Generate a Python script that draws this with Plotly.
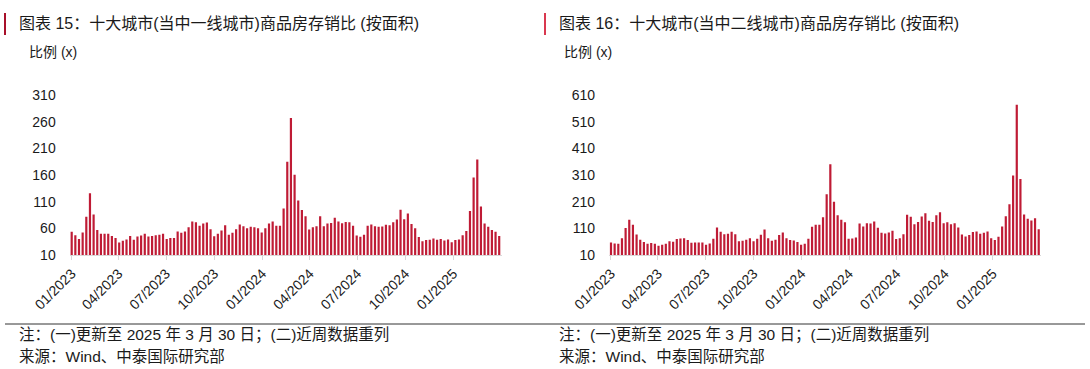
import pandas as pd
import plotly.graph_objects as go

# ---------------- data ----------------
dates = pd.date_range("2023-01-01", "2025-03-30", freq="7D")

tier1_ratio = [53.5, 47, 40, 52, 81.5, 125.7, 86, 57, 50, 50,
               50, 45.5, 41.7, 33.6, 36.7, 39, 45.5, 38.6, 44.8, 46.7,
               50, 44.8, 45.5, 47, 48, 50, 40, 41.7, 42, 54,
               51.7, 54, 62, 73, 71.6, 64.7, 69, 71, 58.5, 45,
               50, 56, 66, 48, 51.7, 58.5, 67, 64, 60, 63,
               62, 60, 52, 60, 69, 73, 64.7, 65, 97, 185,
               267, 160.5, 112, 94.6, 82.8, 58, 62, 64, 82.8, 64,
               69, 70, 80, 73, 69.7, 72, 71.6, 65, 46.7, 44,
               48, 65, 67, 64, 63, 63.5, 66.6, 66, 71.6, 76.5,
               95, 77, 88, 68, 60, 43.6, 36, 38, 38.6, 41,
               38.6, 40, 37.4, 39, 34, 38, 39, 47, 55, 92.7,
               155.5, 189, 101, 69, 63, 57, 53.5, 45.5]

tier2_ratio = [57, 53.5, 52, 73, 111, 142, 123, 87, 67, 58.5,
               52, 55, 52, 45, 48.6, 52, 62, 60, 70, 72,
               73, 66, 56, 57, 57, 57, 48.6, 53.5, 71, 113,
               97, 88, 89.6, 97, 88, 62, 63.5, 67, 73, 62,
               71, 86, 106, 73, 63.5, 67, 84.6, 94.6, 73, 66,
               64.7, 58.5, 48.6, 52, 71, 116, 123, 123, 152, 238,
               350, 210, 159, 142, 133, 71, 72, 76, 128, 117,
               129, 128, 135.6, 112, 93, 91, 94.6, 101, 70, 73,
               88, 160.5, 153, 125.7, 134, 154, 167, 138, 134, 159,
               170.5, 129, 133, 125.7, 129, 113, 87, 79.7, 84.6, 96,
               98, 89.6, 93, 98, 73, 66, 78, 117, 155.5, 200,
               308.5, 573.5, 295, 162, 145.6, 139, 148, 107]

x_tick_dates = pd.to_datetime(["2023-01-01", "2023-04-01", "2023-07-01", "2023-10-01",
                               "2024-01-01", "2024-04-01", "2024-07-01", "2024-10-01",
                               "2025-01-01"])
x_tick_labels = ["01/2023", "04/2023", "07/2023", "10/2023", "01/2024",
                 "04/2024", "07/2024", "10/2024", "01/2025"]
y1_ticks = [10, 60, 110, 160, 210, 260, 310]
y2_ticks = [10, 110, 210, 310, 410, 510, 610]

title1 = "图表 15：十大城市(当中一线城市)商品房存销比 (按面积)"
title2 = "图表 16：十大城市(当中二线城市)商品房存销比 (按面积)"
unit_label = "比例 (x)"
note1 = "注：(一)更新至 2025 年 3 月 30 日；(二)近周数据重列"
note2 = "来源：Wind、中泰国际研究部"

# ---------------- layout helpers ----------------
W, H = 1090, 369
def fx(p):
    return p / W
def fy(p):
    return 1 - p / H

BAR = "#BF1B35"
FONT = "Liberation Sans, Noto Sans CJK SC, sans-serif"
TXT = "#1a1a1a"

x_range = [pd.Timestamp("2023-01-01") - pd.Timedelta(days=4.2),
           pd.Timestamp("2023-01-01") + pd.Timedelta(days=823.4)]

fig = go.Figure()
fig.add_trace(go.Bar(x=dates, y=tier1_ratio, marker=dict(color=BAR, line=dict(width=0)),
                     xaxis="x", yaxis="y", showlegend=False))
fig.add_trace(go.Bar(x=dates, y=tier2_ratio, marker=dict(color=BAR, line=dict(width=0)),
                     xaxis="x2", yaxis="y2", showlegend=False))

xcommon = dict(type="date", range=x_range, tickvals=x_tick_dates, ticktext=x_tick_labels,
               tickangle=-45, showgrid=False, zeroline=False, showline=True, automargin=False,
               linecolor="#d9d9d9", linewidth=1, ticks="outside", ticklen=4,
               tickcolor="#d9d9d9", tickfont=dict(family=FONT, size=14, color=TXT))
ycommon = dict(showgrid=False, zeroline=False, showline=False, ticks="outside", automargin=False,
               ticklen=10, tickcolor="rgba(0,0,0,0)",
               tickfont=dict(family=FONT, size=14, color=TXT))

fig.update_layout(
    template="none",
    width=W, height=H, margin=dict(l=0, r=0, t=0, b=0, autoexpand=False),
    paper_bgcolor="white", plot_bgcolor="white",
    bargap=0.4,
    font=dict(family=FONT, color=TXT),
    xaxis=dict(domain=[fx(69.5), fx(501.5)], anchor="y", **xcommon),
    xaxis2=dict(domain=[fx(608.8), fx(1041.0)], anchor="y2", **xcommon),
    yaxis=dict(domain=[fy(255), fy(95)], anchor="x", range=[10, 310], tickvals=y1_ticks, **ycommon),
    yaxis2=dict(domain=[fy(255), fy(95)], anchor="x2", range=[10, 610], tickvals=y2_ticks, **ycommon),
)

ann = []
def text(x, y, s, size):
    ann.append(dict(x=fx(x), y=fy(y), xref="paper", yref="paper", text=s, showarrow=False,
                    xanchor="left", yanchor="middle", font=dict(family=FONT, size=size, color=TXT)))

text(17, 23, title1, 16)
text(557, 23, title2, 16)
text(27, 52, unit_label, 14)
text(562, 52, unit_label, 14)
text(17, 335, note1, 15.5)
text(557, 335, note1, 15.5)
text(17, 356, note2, 15.5)
text(557, 356, note2, 15.5)
fig.update_layout(annotations=ann)

fig.add_shape(type="line", xref="paper", yref="paper", x0=fx(5), x1=fx(5), y0=fy(13), y1=fy(35),
              line=dict(color="#A8102A", width=2))
fig.add_shape(type="line", xref="paper", yref="paper", x0=fx(545), x1=fx(545), y0=fy(13), y1=fy(35),
              line=dict(color="#D9384F", width=2))
fig.add_shape(type="line", xref="paper", yref="paper", x0=fx(5), x1=fx(1085), y0=fy(324), y1=fy(324),
              line=dict(color="#333333", width=1))

fig.write_html("out.html")
